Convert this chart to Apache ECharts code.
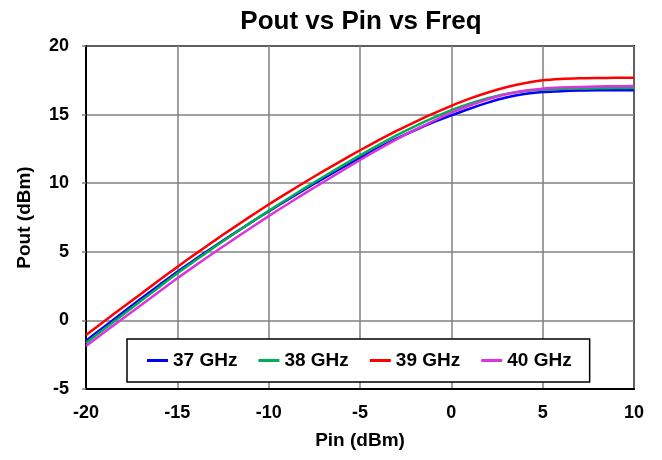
<!DOCTYPE html>
<html>
<head>
<meta charset="utf-8">
<script src="https://cdn.jsdelivr.net/npm/echarts@6/dist/echarts.min.js"></script>
<style>html,body{margin:0;padding:0;background:#fff;}#c{width:662px;height:460px;}</style>
</head>
<body>
<div id="c"></div>
<script>
const pin = [-20,-19,-18,-17,-16,-15,-14,-13,-12,-11,-10,-9,-8,-7,-6,-5,-4,-3,-2,-1,0,1,2,3,4,5,6,7,8,9,10];
const ghz37 = [-1.48,-0.46,0.56,1.57,2.57,3.55,4.47,5.37,6.25,7.11,7.95,8.77,9.57,10.35,11.11,11.85,12.57,13.24,13.86,14.43,14.94,15.43,15.87,16.24,16.5,16.64,16.71,16.75,16.77,16.77,16.77];
const ghz38 = [-1.65,-0.63,0.39,1.41,2.42,3.43,4.38,5.31,6.22,7.11,7.98,8.83,9.66,10.47,11.26,12.03,12.78,13.49,14.15,14.76,15.32,15.79,16.19,16.51,16.71,16.81,16.87,16.9,16.92,16.93,16.93];
const ghz39 = [-1.06,-0.06,0.94,1.93,2.92,3.9,4.85,5.78,6.69,7.58,8.45,9.28,10.09,10.88,11.65,12.4,13.12,13.81,14.46,15.07,15.64,16.16,16.61,16.99,17.29,17.5,17.6,17.65,17.67,17.68,17.68];
const ghz40 = [-1.87,-0.87,0.12,1.11,2.09,3.07,4.01,4.93,5.83,6.72,7.6,8.45,9.28,10.09,10.89,11.69,12.46,13.19,13.88,14.53,15.14,15.66,16.11,16.48,16.74,16.89,16.97,17.02,17.05,17.07,17.08];
const seriesNames = ['37 GHz','38 GHz','39 GHz','40 GHz'];
const seriesData = [ghz37, ghz38, ghz39, ghz40];
const colors = ['#0000FF','#00B050','#FF0000','#DD33DD'];
const xTicks = {min:-20, max:10, interval:5};
const yTicks = {min:-5, max:20, interval:5};

const font = 'Arial, "Liberation Sans", sans-serif';
const chart = echarts.init(document.getElementById('c'), null, {renderer:'canvas'});
chart.setOption({
  backgroundColor:'#fff',
  animation:false,
  title:{text:'Pout vs Pin vs Freq', left:356, textAlign:'center', top:4,
    textStyle:{fontFamily:font, fontWeight:'bold', fontSize:26, color:'#000'}},
  grid:{left:86, right:28, top:46, bottom:71, show:true, borderColor:'#000', borderWidth:2, backgroundColor:'transparent'},
  legend:{left:127, top:339, orient:'horizontal', backgroundColor:'#fff', borderColor:'#000', borderWidth:1.5,
    padding:[12,18,12,20], itemWidth:21, itemHeight:3, itemGap:21, icon:'rect',
    textStyle:{fontFamily:font, fontWeight:'bold', fontSize:19, color:'#000'},
    data:seriesNames},
  xAxis:{type:'value', min:xTicks.min, max:xTicks.max, interval:xTicks.interval,
    name:'Pin (dBm)', nameLocation:'middle', nameGap:42,
    nameTextStyle:{fontFamily:font, fontWeight:'bold', fontSize:19, color:'#000'},
    axisLine:{show:true, onZero:false, lineStyle:{color:'#000', width:2}},
    axisTick:{show:false},
    axisLabel:{fontFamily:font, fontWeight:'bold', fontSize:18, color:'#000', margin:15},
    splitLine:{show:true, lineStyle:{color:'#808080', width:1.5}}},
  yAxis:{type:'value', min:yTicks.min, max:yTicks.max, interval:yTicks.interval,
    name:'Pout (dBm)', nameLocation:'middle', nameGap:52,
    nameTextStyle:{fontFamily:font, fontWeight:'bold', fontSize:19, color:'#000'},
    axisLine:{show:true, onZero:false, lineStyle:{color:'#000', width:2}},
    axisTick:{show:true, length:4, lineStyle:{color:'#808080', width:1.5}},
    axisLabel:{fontFamily:font, fontWeight:'bold', fontSize:18, color:'#000', margin:17},
    splitLine:{show:true, lineStyle:{color:'#808080', width:1.5}}},
  series: seriesNames.map((n,i)=>({
    name:n, type:'line', data:pin.map((x,j)=>[x, seriesData[i][j]]),
    showSymbol:false, symbol:'none', smooth:0.3, color:colors[i],
    lineStyle:{color:colors[i], width:2.5}
  }))
});
</script>
</body>
</html>
